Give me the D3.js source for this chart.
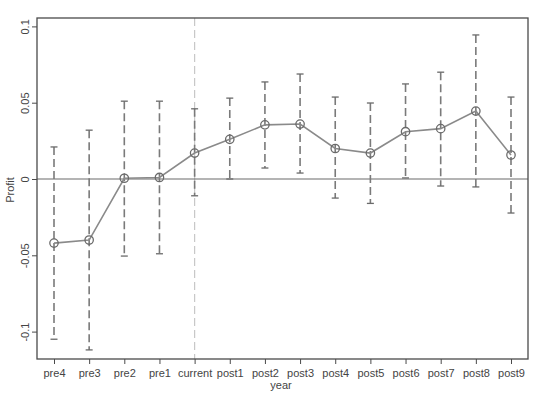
<!DOCTYPE html>
<html><head><meta charset="utf-8">
<script src="https://cdn.jsdelivr.net/npm/d3@7"></script>
<style>body{margin:0;background:#fff}</style>
</head><body>
<svg id="c" width="550" height="415"></svg>
<script>
const categories = ["pre4","pre3","pre2","pre1","current","post1","post2","post3","post4","post5","post6","post7","post8","post9"];
const estimates = [-0.042,-0.040,0.0005,0.001,0.017,0.026,0.0355,0.036,0.020,0.017,0.031,0.033,0.0445,0.0157];
const upper = [0.021,0.032,0.051,0.051,0.046,0.053,0.0636,0.0688,0.0537,0.0498,0.0623,0.070,0.0944,0.0537];
const lower = [-0.105,-0.112,-0.0505,-0.049,-0.011,0.000,0.0072,0.0039,-0.0125,-0.016,0.0007,-0.0046,-0.0052,-0.0223];
const yTicks = [-0.1,-0.05,0,0.05,0.1];
const yTickLabels = ["-0.1","-0.05","0","0.05","0.1"];

const L=37,R=528,T=18,B=359;
const svg=d3.select("#c");
const x=d3.scalePoint().domain(categories).range([54,511]);
const y=d3.scaleLinear().domain([-0.05,0.05]).range([255.3,102.7]);
const font="Liberation Sans, Arial, sans-serif";

svg.append("line").attr("x1",x("current")).attr("x2",x("current")).attr("y1",T).attr("y2",B)
  .attr("stroke","#c8c8c8").attr("stroke-width",1.2).attr("stroke-dasharray","8,4");
svg.append("line").attr("x1",L).attr("x2",R).attr("y1",y(0)).attr("y2",y(0))
  .attr("stroke","#6a6a6a").attr("stroke-width",1.2);

const eb=svg.append("g");
categories.forEach((c,i)=>{
  eb.append("line").attr("x1",x(c)).attr("x2",x(c)).attr("y1",y(upper[i])).attr("y2",y(lower[i]))
    .attr("stroke","#7a7a7a").attr("stroke-width",1.6).attr("stroke-dasharray","8,4");
  [upper[i],lower[i]].forEach(v=>{
    eb.append("line").attr("x1",x(c)-3.5).attr("x2",x(c)+3.5).attr("y1",y(v)).attr("y2",y(v))
      .attr("stroke","#6a6a6a").attr("stroke-width",1.3);
  });
});

svg.append("path").datum(estimates)
  .attr("d",d3.line().x((d,i)=>x(categories[i])).y(d=>y(d)))
  .attr("fill","none").attr("stroke","#8a8a8a").attr("stroke-width",1.6);
svg.append("g").selectAll("circle").data(estimates).join("circle")
  .attr("cx",(d,i)=>x(categories[i])).attr("cy",d=>y(d)).attr("r",4.2)
  .attr("fill","none").attr("stroke","#6a6a6a").attr("stroke-width",1.3);

svg.append("rect").attr("x",L).attr("y",T).attr("width",R-L).attr("height",B-T)
  .attr("fill","none").attr("stroke","#4a4a4a").attr("stroke-width",1.3);

const xa=svg.append("g").attr("transform",`translate(0,${B})`)
  .call(d3.axisBottom(x).tickSize(5).tickPadding(5));
xa.select(".domain").remove();
xa.selectAll("line").attr("stroke","#4a4a4a");
xa.selectAll("text").attr("font-family",font).attr("font-size",11).attr("fill","#444");

const ya=svg.append("g").attr("transform",`translate(${L},0)`)
  .call(d3.axisLeft(y).tickValues(yTicks).tickSize(5).tickFormat((d,i)=>yTickLabels[i]));
ya.select(".domain").remove();
ya.selectAll("line").attr("stroke","#4a4a4a");
ya.selectAll("text").attr("font-family",font).attr("font-size",11).attr("fill","#444")
  .attr("text-anchor","middle").attr("x",0).attr("y",0).attr("dy","0.35em")
  .attr("transform","translate(-12,0) rotate(-90)");

svg.append("text").attr("transform",`translate(14,190) rotate(-90)`).attr("text-anchor","middle")
  .attr("font-family",font).attr("font-size",11).attr("fill","#444").text("Profit");
svg.append("text").attr("x",281).attr("y",389).attr("text-anchor","middle")
  .attr("font-family",font).attr("font-size",11).attr("fill","#444").text("year");
</script>
</body></html>
